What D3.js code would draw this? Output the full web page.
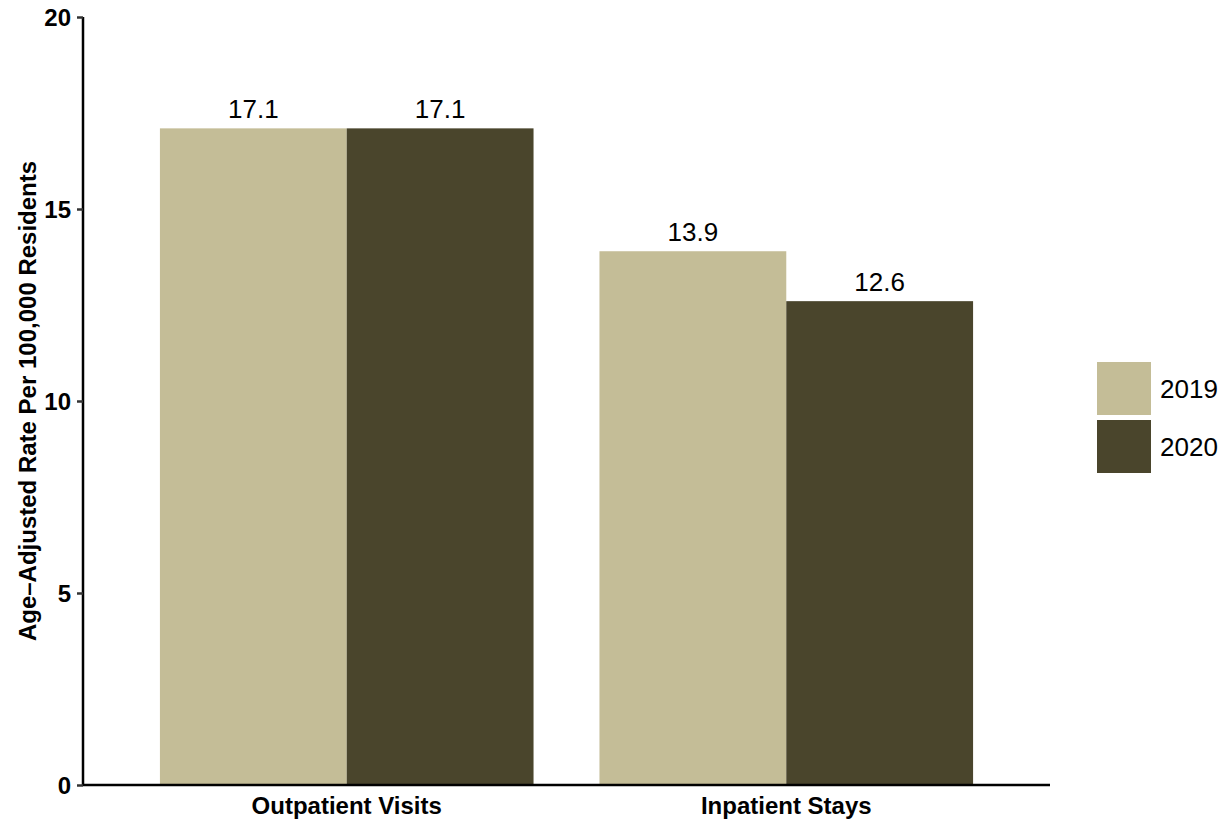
<!DOCTYPE html>
<html><head><meta charset="utf-8">
<script src="https://cdn.jsdelivr.net/npm/d3@7"></script>
<style>body{margin:0;background:#fff}svg{display:block;font-family:"Liberation Sans",Arial,sans-serif}</style>
</head><body><svg id="c" width="1225" height="822"></svg>
<script>
const categories = ["Outpatient Visits", "Inpatient Stays"];
const years = ["2019", "2020"];
const values2019 = [17.1, 13.9];
const values2020 = [17.1, 12.6];
const yTicks = [0, 5, 10, 15, 20];
const colors = ["#C4BD97", "#4A452C"];

(function () {
const svg = d3.select("#c");
const mLeft = 83, mRight = 1050, mTop = 17, mBottom = 785;
const x = d3.scaleBand().domain(categories).range([mLeft, mRight]).paddingInner(0.15).paddingOuter(0.175);
const xs = d3.scaleBand().domain(years).range([0, x.bandwidth()]);
const y = d3.scaleLinear().domain([0, 20]).range([mBottom, mTop]);
const color = d3.scaleOrdinal().domain(years).range(colors);

const rows = [];
categories.forEach((c, i) => {
  rows.push({cat: c, yr: "2019", v: values2019[i]});
  rows.push({cat: c, yr: "2020", v: values2020[i]});
});

svg.selectAll("rect.bar").data(rows).join("rect").attr("class", "bar")
  .attr("x", d => x(d.cat) + xs(d.yr))
  .attr("width", xs.bandwidth())
  .attr("y", d => y(d.v))
  .attr("height", d => y(0) - y(d.v))
  .attr("fill", d => color(d.yr));

svg.selectAll("text.val").data(rows).join("text").attr("class", "val")
  .attr("x", d => x(d.cat) + xs(d.yr) + xs.bandwidth() / 2)
  .attr("y", d => y(d.v) - 10)
  .attr("text-anchor", "middle")
  .attr("font-size", 26)
  .attr("fill", "#000")
  .text(d => d.v.toFixed(1));

// y axis
const ya = svg.append("g").attr("transform", `translate(${mLeft},0)`)
  .call(d3.axisLeft(y).tickValues(yTicks).tickSize(6).tickPadding(6));
ya.select(".domain").attr("stroke", "#000").attr("stroke-width", 2.5).attr("d", `M0,${mTop}V${mBottom}`);
ya.selectAll(".tick line").attr("stroke", "#333").attr("stroke-width", 2.5);
ya.selectAll(".tick text").attr("font-size", 24).attr("font-weight", "bold").attr("fill", "#000")
  .attr("font-family", "Liberation Sans, Arial, sans-serif").attr("dy", "0.35em");

// x axis
const xa = svg.append("g").attr("transform", `translate(0,${mBottom})`)
  .call(d3.axisBottom(x).tickSize(0).tickPadding(12));
xa.select(".domain").attr("stroke", "#000").attr("stroke-width", 2.5).attr("d", `M${mLeft},0H${mRight}`);
xa.selectAll(".tick text").attr("font-size", 24).attr("font-weight", "bold").attr("fill", "#000")
  .attr("font-family", "Liberation Sans, Arial, sans-serif").attr("dy", "0.71em");

// y title
svg.append("text")
  .attr("transform", `translate(36,${(mTop + mBottom) / 2}) rotate(-90)`)
  .attr("text-anchor", "middle")
  .attr("font-size", 24).attr("font-weight", "bold")
  .text("Age\u2013Adjusted Rate Per 100,000 Residents");

// legend
const lg = svg.append("g").attr("transform", "translate(1097,362)");
years.forEach((yr, i) => {
  lg.append("rect").attr("x", 0).attr("y", i * 58).attr("width", 54).attr("height", 53).attr("fill", color(yr));
  lg.append("text").attr("x", 63).attr("y", i * 58 + 27).attr("dy", "0.35em")
    .attr("font-size", 26).text(yr);
});
})();
</script></body></html>
